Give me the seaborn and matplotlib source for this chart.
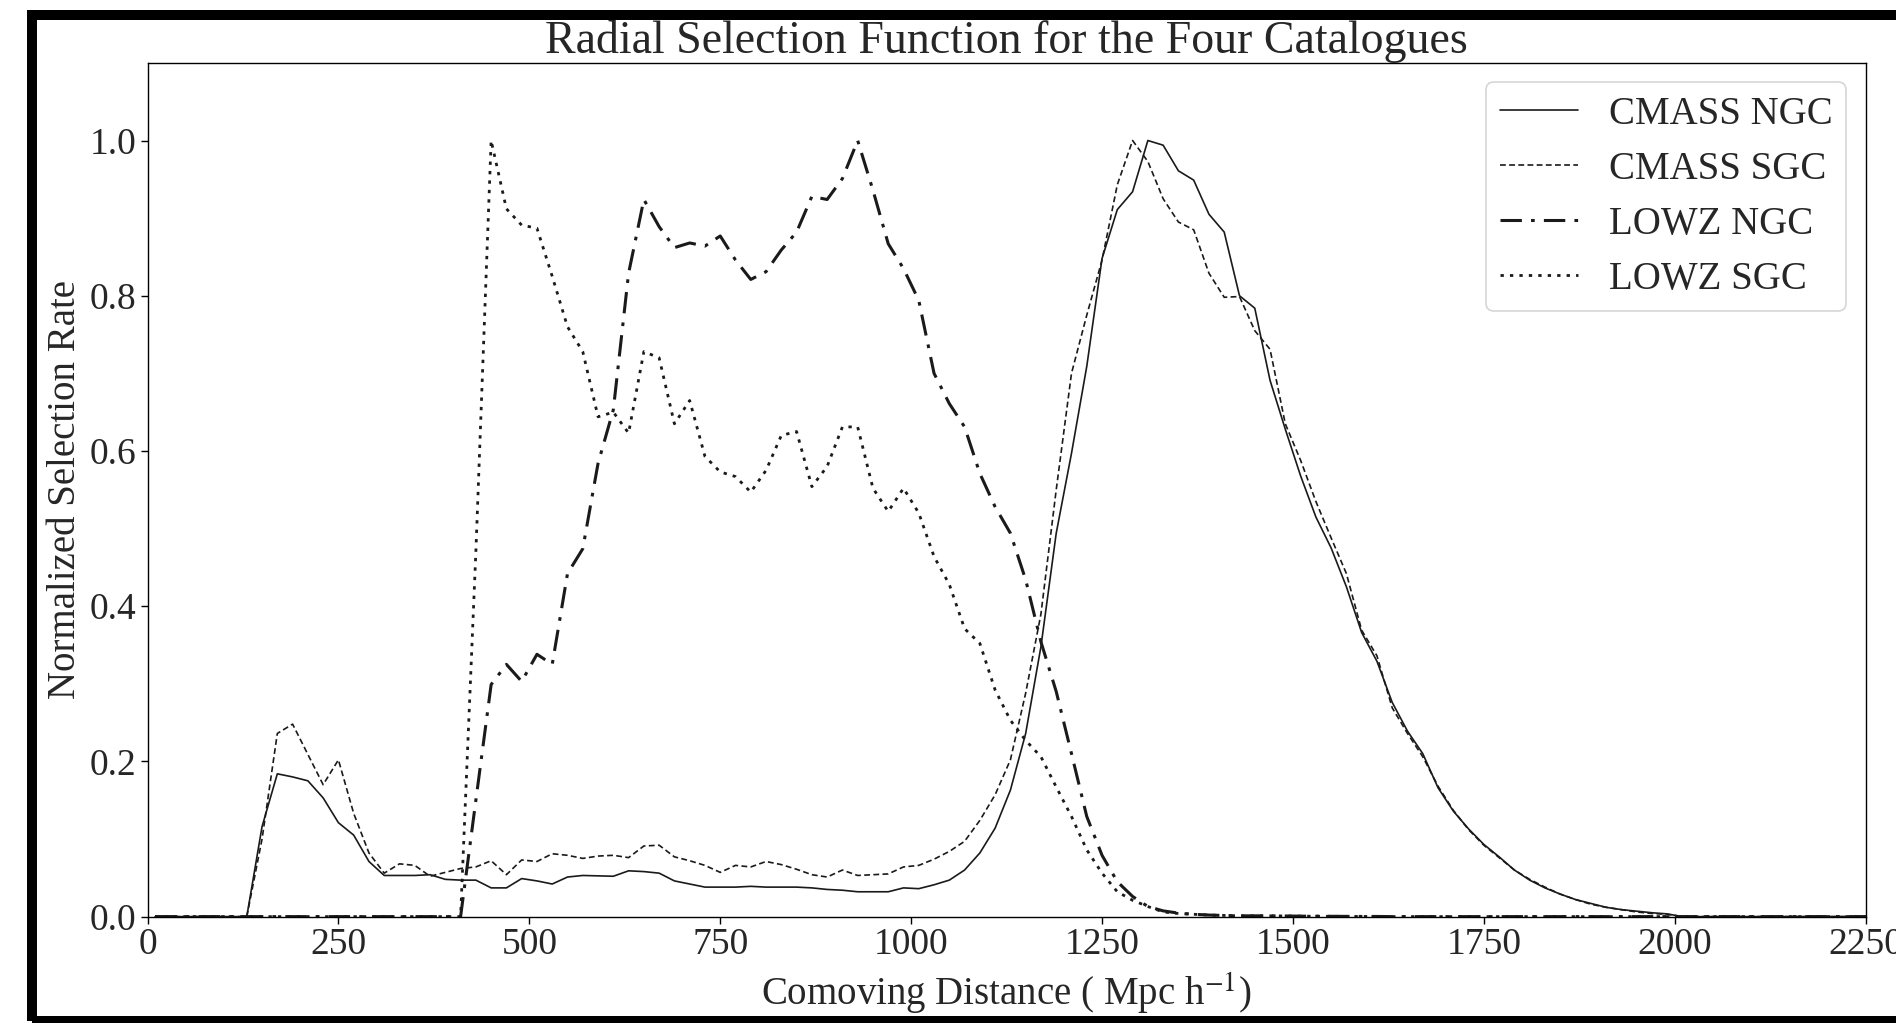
import numpy as np
import pandas as pd
import matplotlib
matplotlib.use("Agg")
import matplotlib.pyplot as plt
from matplotlib.patches import Rectangle
import seaborn as sns

# Comoving-distance bin centres (Mpc/h), 20 Mpc/h wide bins
distance = np.arange(10, 2280, 20)

cmass_ngc = [
    0, 0, 0, 0, 0, 0, 0, 0.116, 0.184, 0.180,
    0.175, 0.153, 0.121, 0.105, 0.071, 0.053, 0.053, 0.053, 0.054, 0.048,
    0.047, 0.047, 0.037, 0.037, 0.049, 0.046, 0.042, 0.051, 0.053, 0.0525,
    0.052, 0.059, 0.058, 0.056, 0.046, 0.042, 0.038, 0.038, 0.038, 0.039,
    0.038, 0.038, 0.038, 0.037, 0.035, 0.034, 0.032, 0.032, 0.032, 0.037,
    0.036, 0.041, 0.047, 0.060, 0.082, 0.114, 0.163, 0.236, 0.348, 0.494,
    0.597, 0.709, 0.848, 0.911, 0.934, 1.000, 0.994, 0.961, 0.949, 0.905,
    0.882, 0.800, 0.784, 0.691, 0.628, 0.568, 0.515, 0.475, 0.425, 0.366,
    0.329, 0.276, 0.239, 0.210, 0.166, 0.136, 0.113, 0.093, 0.077, 0.060,
    0.047, 0.037, 0.029, 0.022, 0.017, 0.012, 0.009, 0.007, 0.005, 0.0035,
    0, 0, 0, 0, 0, 0, 0, 0, 0, 0,
    0, 0, 0, 0,
]

cmass_sgc = [
    0, 0, 0, 0, 0, 0, 0, 0.100, 0.236, 0.248,
    0.209, 0.170, 0.202, 0.133, 0.082, 0.056, 0.068, 0.066, 0.052, 0.057,
    0.062, 0.064, 0.072, 0.054, 0.073, 0.071, 0.081, 0.079, 0.075, 0.078,
    0.079, 0.076, 0.091, 0.092, 0.077, 0.072, 0.066, 0.057, 0.066, 0.064,
    0.071, 0.067, 0.061, 0.054, 0.051, 0.060, 0.053, 0.054, 0.055, 0.064,
    0.066, 0.074, 0.084, 0.097, 0.124, 0.157, 0.202, 0.288, 0.390, 0.550,
    0.700, 0.775, 0.846, 0.943, 1.000, 0.973, 0.925, 0.895, 0.885, 0.829,
    0.798, 0.799, 0.755, 0.731, 0.635, 0.588, 0.535, 0.488, 0.442, 0.369,
    0.336, 0.269, 0.236, 0.206, 0.168, 0.137, 0.112, 0.092, 0.076, 0.060,
    0.048, 0.038, 0.029, 0.022, 0.016, 0.012, 0.009, 0.006, 0.004, 0.003,
    0, 0, 0, 0, 0, 0, 0, 0, 0, 0,
    0, 0, 0, 0,
]

lowz_ngc = [
    0, 0, 0, 0, 0, 0, 0, 0, 0, 0,
    0, 0, 0, 0, 0, 0, 0, 0, 0, 0,
    0, 0.150, 0.299, 0.325, 0.303, 0.338, 0.325, 0.442, 0.474, 0.584,
    0.653, 0.829, 0.924, 0.889, 0.862, 0.868, 0.864, 0.877, 0.846, 0.821,
    0.831, 0.859, 0.882, 0.928, 0.924, 0.951, 1.000, 0.936, 0.867, 0.835,
    0.794, 0.700, 0.661, 0.631, 0.571, 0.528, 0.494, 0.434, 0.354, 0.290,
    0.210, 0.129, 0.079, 0.045, 0.026, 0.013, 0.0074, 0.0045, 0.003, 0.002,
    0.0015, 0.001, 0.001, 0.001, 0.0008, 0.0006, 0.0005, 0.0004, 0.0003, 0.0002,
    0.0002, 0, 0, 0, 0, 0, 0, 0, 0, 0,
    0, 0, 0, 0, 0, 0, 0, 0, 0, 0,
    0, 0, 0, 0, 0, 0, 0, 0, 0, 0,
    0, 0, 0, 0,
]

lowz_sgc = [
    0, 0, 0, 0, 0, 0, 0, 0, 0, 0,
    0, 0, 0, 0, 0, 0, 0, 0, 0, 0,
    0, 0.470, 1.000, 0.912, 0.891, 0.887, 0.825, 0.760, 0.728, 0.644,
    0.650, 0.623, 0.728, 0.720, 0.635, 0.665, 0.593, 0.573, 0.567, 0.547,
    0.575, 0.620, 0.625, 0.554, 0.580, 0.631, 0.631, 0.552, 0.522, 0.552,
    0.520, 0.464, 0.428, 0.371, 0.352, 0.292, 0.253, 0.227, 0.206, 0.167,
    0.129, 0.086, 0.056, 0.032, 0.021, 0.013, 0.006, 0.004, 0.003, 0.002,
    0.0015, 0.001, 0.001, 0.001, 0.0008, 0.0006, 0.0005, 0.0004, 0.0003, 0.0002,
    0.0002, 0, 0, 0, 0, 0, 0, 0, 0, 0,
    0, 0, 0, 0, 0, 0, 0, 0, 0, 0,
    0, 0, 0, 0, 0, 0, 0, 0, 0, 0,
    0, 0, 0, 0,
]

catalogue_names = ["CMASS NGC", "CMASS SGC", "LOWZ NGC", "LOWZ SGC"]
x_ticks = [0, 250, 500, 750, 1000, 1250, 1500, 1750, 2000, 2250]
y_ticks = [0.0, 0.2, 0.4, 0.6, 0.8, 1.0]

sns.set_style("ticks")
plt.rcParams["font.family"] = ["Liberation Serif", "DejaVu Serif"]
plt.rcParams["mathtext.fontset"] = "stix"

fig = plt.figure(figsize=(18.96, 10.23), dpi=100)
ax = fig.add_axes([0.0778, 0.104, 0.9062, 0.8345])

series = [cmass_ngc, cmass_sgc, lowz_ngc, lowz_sgc]
line_styles = [
    dict(linestyle="-", linewidth=1.2),
    dict(linestyle=(0, (3.5, 2.0)), linewidth=1.2),
    dict(linestyle=(0, (7.0, 3.0, 1.2, 3.0)), linewidth=2.2),
    dict(linestyle=(0, (1.2, 2.2)), linewidth=2.0),
]
for name, values, style in zip(catalogue_names, series, line_styles):
    frame = pd.DataFrame({"distance": distance, "rate": values})
    sns.lineplot(data=frame, x="distance", y="rate", ax=ax, color="#1a1a1a",
                 label=name, **style)

ax.set_xlim(0, 2250)
ax.set_ylim(0, 1.1)
ax.set_xticks(x_ticks)
ax.set_yticks(y_ticks)
ax.set_xticklabels([str(t) for t in x_ticks])
ax.set_yticklabels([f"{t:.1f}" for t in y_ticks])
ax.tick_params(axis="both", labelsize=27, length=5, width=1.0, color="black",
               pad=3)
for spine in ax.spines.values():
    spine.set_color("black")
    spine.set_linewidth(1.0)

ax.set_title("Radial Selection Function for the Four Catalogues",
             fontsize=33, pad=4)
ax.set_xlabel(r"Comoving Distance ( Mpc h$^{-1}$)", fontsize=28, labelpad=6)
ax.set_ylabel("Normalized Selection Rate", fontsize=28, labelpad=4)

leg = ax.legend(loc="upper right", fontsize=28, frameon=True, fancybox=True,
                labelspacing=0.46, handlelength=2.0, borderpad=0.35)
leg.get_frame().set_edgecolor("#cccccc")
leg.get_frame().set_linewidth(1.2)

# heavy black frame around the figure
fig.patches.append(Rectangle((32 / 1896, 2 / 1023), 1.05, 1 - 17 / 1023,
                             transform=fig.transFigure, fill=False,
                             edgecolor="black", linewidth=7.2, clip_on=False))

fig.savefig("out.png", dpi=100)
